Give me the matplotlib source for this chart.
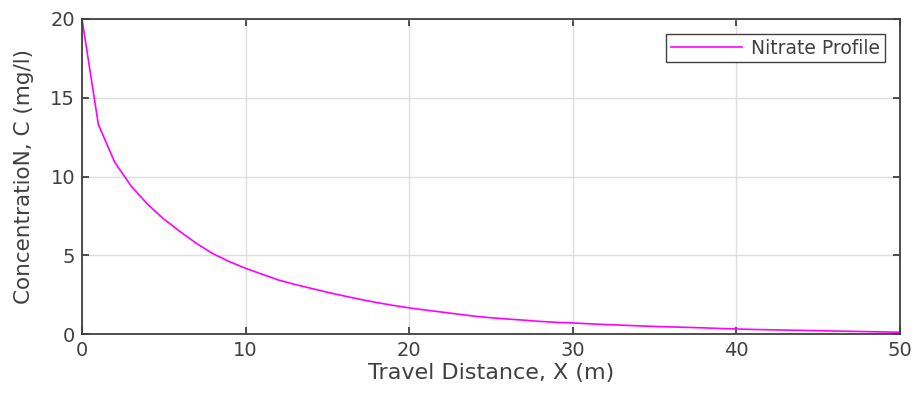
import matplotlib
matplotlib.use("Agg")
import matplotlib.pyplot as plt

x_m = list(range(0, 51))
conc = [20.0, 13.3, 10.9, 9.4, 8.25, 7.3, 6.5, 5.75, 5.1, 4.6,
        4.17, 3.8, 3.43, 3.15, 2.9, 2.65, 2.42, 2.2, 2.0, 1.82,
        1.66, 1.52, 1.39, 1.26, 1.13, 1.03, 0.95, 0.88, 0.80, 0.74,
        0.70, 0.65, 0.60, 0.56, 0.52, 0.48, 0.45, 0.42, 0.39, 0.35,
        0.32, 0.29, 0.27, 0.25, 0.23, 0.21, 0.19, 0.17, 0.15, 0.13,
        0.11]
xticks = [0, 10, 20, 30, 40, 50]
yticks = [0, 5, 10, 15, 20]

fig = plt.figure(figsize=(9.15, 3.96), dpi=100)
ax = fig.add_axes([82/915, 62/396, 818/915, 315/396])
ax.plot(x_m, conc, color="#ff00ff", lw=1.2, label="Nitrate Profile")
ax.set_xlim(0, 50)
ax.set_ylim(0, 20)
ax.set_xticks(xticks)
ax.set_yticks(yticks)
ax.grid(True, color="#dedede", lw=1.0)
ax.set_axisbelow(True)
for s in ax.spines.values():
    s.set_color("#404040")
    s.set_linewidth(1.3)
ax.tick_params(direction="in", top=True, right=True, length=5, width=1.3,
               colors="#404040", labelsize=14, labelcolor="#404040", pad=5)
ax.set_xlabel("Travel Distance, X (m)", fontsize=16, color="#404040", labelpad=2)
ax.set_ylabel("ConcentratioN, C (mg/l)", fontsize=15.5, color="#404040", labelpad=12)
leg = ax.legend(loc="upper right", fontsize=13.5, fancybox=False, framealpha=1,
                edgecolor="#404040", handlelength=3.8, borderaxespad=0.8,
                borderpad=0.25, handletextpad=0.5)
leg.get_frame().set_linewidth(1.0)
for t in leg.get_texts():
    t.set_color("#404040")
fig.savefig("out.png", dpi=100)
